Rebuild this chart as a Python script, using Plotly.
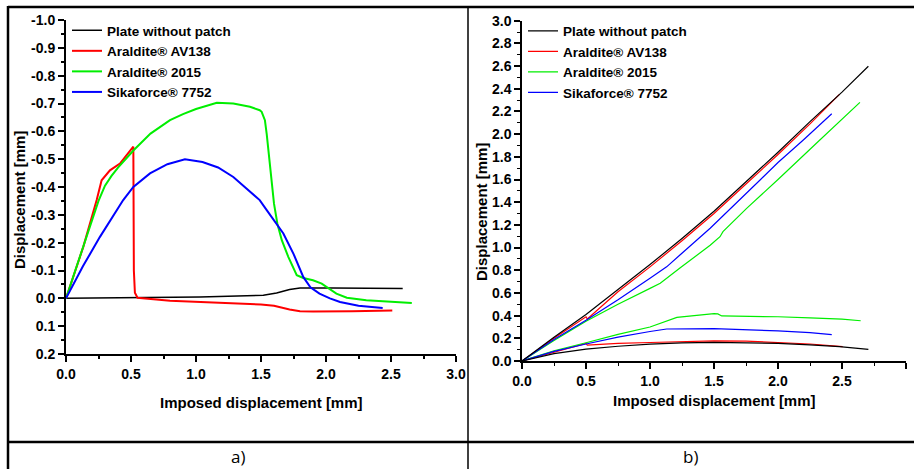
import plotly.graph_objects as go

W, H = 914, 469

# ---------------- data: panel a) ----------------
series_names = ["Plate without patch", "Araldite® AV138", "Araldite® 2015", "Sikaforce® 7752"]
series_colors = ["#000000", "#ff0000", "#00ee00", "#0000ff"]

plate_a_x = [0, 0.5, 1.03, 1.518, 1.62, 1.72, 1.80, 2.05, 2.3, 2.59]
plate_a_y = [0, -0.002, -0.005, -0.011, -0.019, -0.032, -0.037, -0.037, -0.036, -0.035]

av138_a_x = [0, 0.07, 0.133, 0.236, 0.274, 0.338, 0.415, 0.518, 0.52, 0.522, 0.53, 0.55, 0.8, 1.0, 1.2, 1.5, 1.6, 1.65, 1.72, 1.8, 1.9, 2.2, 2.51]
av138_a_y = [0, -0.095, -0.185, -0.353, -0.424, -0.46, -0.484, -0.545, -0.4, -0.1, -0.02, -0.002, 0.009, 0.013, 0.016, 0.022, 0.027, 0.033, 0.04, 0.046, 0.047, 0.046, 0.044]

a2015_a_x = [0, 0.1, 0.2, 0.25, 0.3, 0.35, 0.4, 0.52, 0.65, 0.8, 0.9, 1.0, 1.16, 1.287, 1.415, 1.49, 1.505, 1.53, 1.544, 1.556, 1.57, 1.582, 1.6, 1.626, 1.66, 1.71, 1.775, 1.825, 1.9, 1.967, 2.02, 2.08, 2.16, 2.31, 2.66]
a2015_a_y = [0, -0.14, -0.28, -0.35, -0.405, -0.44, -0.47, -0.532, -0.592, -0.64, -0.662, -0.68, -0.703, -0.70, -0.688, -0.676, -0.67, -0.64, -0.59, -0.532, -0.472, -0.40, -0.34, -0.268, -0.209, -0.149, -0.083, -0.073, -0.065, -0.053, -0.035, -0.017, -0.002, 0.007, 0.017]

sika_a_x = [0, 0.13, 0.26, 0.44, 0.518, 0.646, 0.78, 0.915, 1.05, 1.17, 1.287, 1.4, 1.49, 1.544, 1.6, 1.672, 1.75, 1.825, 1.88, 1.95, 2.03, 2.108, 2.25, 2.436]
sika_a_y = [0, -0.115, -0.22, -0.353, -0.40, -0.449, -0.482, -0.50, -0.49, -0.47, -0.436, -0.39, -0.353, -0.317, -0.28, -0.233, -0.16, -0.077, -0.04, -0.017, 0.0, 0.013, 0.027, 0.035]

# ---------------- data: panel b) (upper and lower branches) ----------------
plate_b_up_x = [0, 0.25, 0.5, 0.75, 1.0, 1.25, 1.5, 1.75, 2.0, 2.25, 2.5, 2.706]
plate_b_up_y = [0, 0.21, 0.41, 0.63, 0.85, 1.08, 1.32, 1.58, 1.84, 2.11, 2.37, 2.598]
plate_b_lo_x = [0, 0.25, 0.5, 0.75, 1.0, 1.25, 1.5, 1.75, 2.0, 2.25, 2.48, 2.706]
plate_b_lo_y = [0, 0.065, 0.105, 0.13, 0.148, 0.16, 0.165, 0.163, 0.155, 0.142, 0.126, 0.103]

av138_b_up_x = [0, 0.25, 0.5, 0.51, 0.75, 1.0, 1.25, 1.5, 1.75, 2.0, 2.25, 2.48]
av138_b_up_y = [0, 0.2, 0.39, 0.37, 0.61, 0.83, 1.06, 1.30, 1.56, 1.82, 2.09, 2.35]
av138_b_lo_x = [0, 0.25, 0.5, 0.51, 0.75, 1.0, 1.25, 1.5, 1.75, 2.0, 2.25, 2.505]
av138_b_lo_y = [0, 0.08, 0.155, 0.14, 0.155, 0.163, 0.17, 0.178, 0.175, 0.165, 0.15, 0.126]

a2015_b_up_x = [0, 0.25, 0.5, 0.75, 1.0, 1.08, 1.234, 1.47, 1.547, 1.57, 1.755, 2.0, 2.3, 2.64]
a2015_b_up_y = [0, 0.18, 0.35, 0.5, 0.64, 0.685, 0.82, 1.02, 1.096, 1.14, 1.346, 1.6, 1.92, 2.28]
a2015_b_lo_x = [0, 0.25, 0.5, 0.75, 1.0, 1.21, 1.5, 1.53, 1.56, 1.75, 2.0, 2.25, 2.5, 2.646]
a2015_b_lo_y = [0, 0.09, 0.161, 0.235, 0.30, 0.385, 0.417, 0.415, 0.397, 0.395, 0.39, 0.38, 0.37, 0.355]

sika_b_up_x = [0, 0.25, 0.5, 0.75, 1.0, 1.13, 1.234, 1.47, 1.86, 2.0, 2.2, 2.42]
sika_b_up_y = [0, 0.19, 0.36, 0.54, 0.73, 0.83, 0.935, 1.17, 1.596, 1.75, 1.95, 2.18]
sika_b_lo_x = [0, 0.25, 0.5, 0.75, 1.0, 1.13, 1.5, 1.75, 2.0, 2.25, 2.42]
sika_b_lo_y = [0, 0.085, 0.15, 0.21, 0.26, 0.282, 0.285, 0.278, 0.265, 0.25, 0.232]

# ---------------- tick labels ----------------
x_tickvals = [0, 0.5, 1.0, 1.5, 2.0, 2.5, 3.0]
x_ticktext = ["0.0", "0.5", "1.0", "1.5", "2.0", "2.5", "3.0"]
ya_tickvals = [-1.0, -0.9, -0.8, -0.7, -0.6, -0.5, -0.4, -0.3, -0.2, -0.1, 0.0, 0.1, 0.2]
ya_ticktext = ["-1.0", "-0.9", "-0.8", "-0.7", "-0.6", "-0.5", "-0.4", "-0.3", "-0.2", "-0.1", "0.0", "0.1", "0.2"]
yb_tickvals = [0.0, 0.2, 0.4, 0.6, 0.8, 1.0, 1.2, 1.4, 1.6, 1.8, 2.0, 2.2, 2.4, 2.6, 2.8, 3.0]
yb_ticktext = ["0.0", "0.2", "0.4", "0.6", "0.8", "1.0", "1.2", "1.4", "1.6", "1.8", "2.0", "2.2", "2.4", "2.6", "2.8", "3.0"]

x_title = "Imposed displacement [mm]"
y_title = "Displacement [mm]"
panel_labels = ["a)", "b)"]

FONT = "Liberation Sans, Arial, sans-serif"


def px(x):
    return x / W


def py(y):
    return 1 - y / H


def join(x1, y1, x2, y2):
    return x1 + [None] + x2, y1 + [None] + y2


fig = go.Figure()

# panel a
a_data = [(plate_a_x, plate_a_y), (av138_a_x, av138_a_y), (a2015_a_x, a2015_a_y), (sika_a_x, sika_a_y)]
a_widths = [1.5, 2, 2, 2]
for i, (xs, ys) in enumerate(a_data):
    fig.add_trace(go.Scatter(x=xs, y=ys, mode="lines", name=series_names[i],
                             line=dict(color=series_colors[i], width=a_widths[i]),
                             xaxis="x", yaxis="y", legend="legend", legendrank=i + 1))

# panel b
b_data = [
    join(plate_b_up_x, plate_b_up_y, plate_b_lo_x, plate_b_lo_y),
    join(av138_b_up_x, av138_b_up_y, av138_b_lo_x, av138_b_lo_y),
    join(a2015_b_up_x, a2015_b_up_y, a2015_b_lo_x, a2015_b_lo_y),
    join(sika_b_up_x, sika_b_up_y, sika_b_lo_x, sika_b_lo_y),
]
for i in [1, 2, 3, 0]:
    xs, ys = b_data[i]
    fig.add_trace(go.Scatter(x=xs, y=ys, mode="lines", name=series_names[i],
                             line=dict(color=series_colors[i], width=1.2),
                             connectgaps=False,
                             xaxis="x2", yaxis="y2", legend="legend2", legendrank=i + 1))

tickfont = dict(family=FONT, size=14, color="black", weight="bold")
common_axis = dict(showgrid=False, zeroline=False, showline=True, linecolor="black",
                   ticks="outside", tickcolor="black", ticklen=6, tickwidth=1.5,
                   tickfont=tickfont, automargin=False)

fig.update_layout(
    width=W, height=H,
    margin=dict(l=0, r=0, t=0, b=0, autoexpand=False),
    paper_bgcolor="white", plot_bgcolor="white",
    font=dict(family=FONT, color="black"),
    xaxis=dict(domain=[px(66), px(456)], range=[0, 3], tickvals=x_tickvals, ticktext=x_ticktext,
               anchor="y", linewidth=2,
               minor=dict(dtick=0.25, tick0=0, ticks="outside", ticklen=3, tickcolor="black", tickwidth=1.5),
               **common_axis),
    yaxis=dict(domain=[py(354), py(20)], range=[0.2, -1.0], tickvals=ya_tickvals, ticktext=ya_ticktext,
               anchor="x", linewidth=2,
               minor=dict(dtick=0.05, tick0=0, ticks="outside", ticklen=3, tickcolor="black", tickwidth=1.5),
               **common_axis),
    xaxis2=dict(domain=[px(522), px(906)], range=[0, 3], tickvals=x_tickvals, ticktext=x_ticktext,
                anchor="y2", linewidth=1.5,
                minor=dict(dtick=0.25, tick0=0, ticks="outside", ticklen=3, tickcolor="black", tickwidth=1.2),
                **common_axis),
    yaxis2=dict(domain=[py(361), py(20.7)], range=[0, 3], tickvals=yb_tickvals, ticktext=yb_ticktext,
                anchor="x2", linewidth=1.5,
                minor=dict(dtick=0.1, tick0=0, ticks="outside", ticklen=3, tickcolor="black", tickwidth=1.2),
                **common_axis),
    legend=dict(x=px(67), y=py(15), xanchor="left", yanchor="top", bgcolor="rgba(0,0,0,0)",
                font=dict(family=FONT, size=13.5, color="black", weight="bold"),
                tracegroupgap=0, borderwidth=0),
    legend2=dict(x=px(523), y=py(15.5), xanchor="left", yanchor="top", bgcolor="rgba(0,0,0,0)",
                 font=dict(family=FONT, size=13.5, color="black", weight="bold"),
                 tracegroupgap=0, borderwidth=0),
    showlegend=True,
)

# axis titles
title_font = dict(family=FONT, size=15, color="black", weight="bold")
ann = dict(xref="paper", yref="paper", showarrow=False, xanchor="center", yanchor="middle")
fig.add_annotation(text=x_title, x=px(261), y=py(402), font=title_font, **ann)
fig.add_annotation(text=x_title, x=px(714), y=py(400), font=title_font, **ann)
fig.add_annotation(text=y_title, x=px(19), y=py(200), font=title_font, textangle=-90, **ann)
fig.add_annotation(text=y_title, x=px(481), y=py(212), font=title_font, textangle=-90, **ann)

# panel labels
lab_font = dict(family="Open Sans, Liberation Sans, sans-serif", size=17, color="black")
fig.add_annotation(text=panel_labels[0], x=px(238), y=py(456), font=lab_font, **ann)
fig.add_annotation(text=panel_labels[1], x=px(690), y=py(456), font=lab_font, **ann)

# table borders
border = dict(color="black", width=2.5)
fig.add_shape(type="line", xref="paper", yref="paper", x0=px(8), x1=px(914), y0=py(7), y1=py(7), line=border)
fig.add_shape(type="line", xref="paper", yref="paper", x0=px(8), x1=px(8), y0=py(6), y1=py(469), line=border)
fig.add_shape(type="line", xref="paper", yref="paper", x0=px(8), x1=px(914), y0=py(442), y1=py(442), line=border)
fig.add_shape(type="line", xref="paper", yref="paper", x0=px(468), x1=px(468), y0=py(7), y1=py(469),
              line=dict(color="black", width=1.5))

fig.write_html("out.html", config={"displayModeBar": False},
               post_script="document.body.style.margin='0';")
